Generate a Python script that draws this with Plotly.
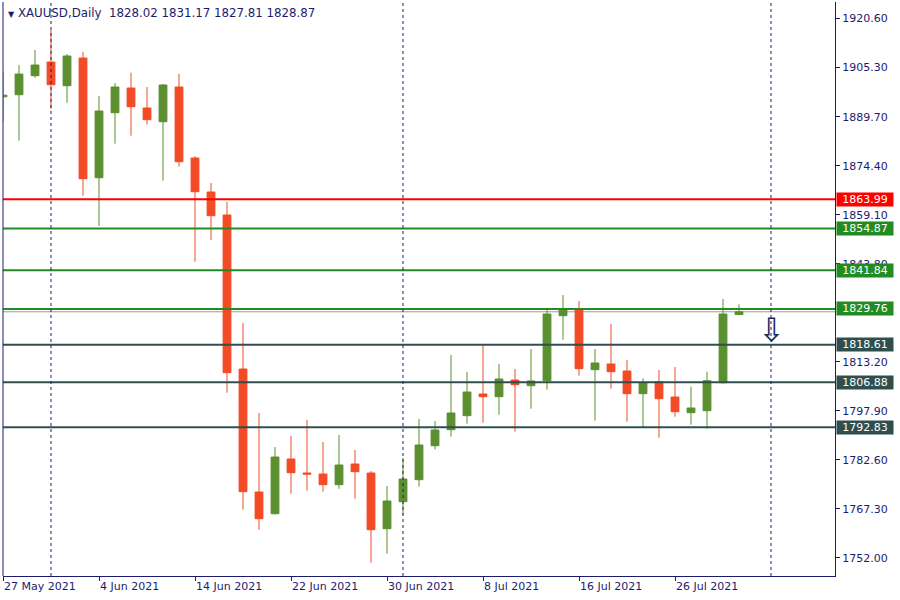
import plotly.graph_objects as go
import pandas as pd

# ---- data ----
dates = ["2021-05-27", "2021-05-28", "2021-05-31", "2021-06-01", "2021-06-02", "2021-06-03",
         "2021-06-04", "2021-06-07", "2021-06-08", "2021-06-09", "2021-06-10", "2021-06-11",
         "2021-06-14", "2021-06-15", "2021-06-16", "2021-06-17", "2021-06-18", "2021-06-21",
         "2021-06-22", "2021-06-23", "2021-06-24", "2021-06-25", "2021-06-28", "2021-06-29",
         "2021-06-30", "2021-07-01", "2021-07-02", "2021-07-05", "2021-07-06", "2021-07-07",
         "2021-07-08", "2021-07-09", "2021-07-12", "2021-07-13", "2021-07-14", "2021-07-15",
         "2021-07-16", "2021-07-19", "2021-07-20", "2021-07-21", "2021-07-22", "2021-07-23",
         "2021-07-26", "2021-07-27", "2021-07-28", "2021-07-29", "2021-07-30"]

opens = [1896.0, 1896.65, 1902.58, 1906.86, 1899.46, 1908.11, 1870.73, 1891.03, 1898.74, 1892.5,
         1888.22, 1899.05, 1876.89, 1866.27, 1859.09, 1811.0, 1772.6, 1765.82, 1782.9, 1778.53,
         1778.22, 1774.88, 1781.34, 1778.53, 1761.14, 1769.57, 1776.44, 1787.05, 1792.05, 1796.43,
         1803.2, 1802.36, 1807.57, 1805.79, 1807.35, 1827.65, 1829.43, 1810.8, 1812.57, 1810.38,
         1803.3, 1807.04, 1802.26, 1797.36, 1797.98, 1806.73, 1828.02]
highs = [1903.8, 1905.9, 1910.6, 1916.85, 1909.36, 1909.98, 1896.25, 1900.3, 1903.52, 1899.05,
         1900.0, 1903.2, 1877.5, 1869.08, 1863.15, 1825.4, 1797.27, 1786.65, 1790.09, 1795.08,
         1788.21, 1790.4, 1785.71, 1779.15, 1774.47, 1783.21, 1795.4, 1794.77, 1815.4, 1810.07,
         1818.5, 1812.57, 1811.0, 1817.25, 1829.96, 1834.11, 1832.24, 1817.25, 1825.06, 1813.82,
         1808.1, 1810.69, 1811.63, 1805.48, 1810.16, 1832.86, 1831.17]
lows = [1888.2, 1882.3, 1901.96, 1892.28, 1894.15, 1865.12, 1855.65, 1881.35, 1883.85, 1887.3,
        1869.8, 1874.2, 1844.5, 1851.28, 1803.6, 1767.1, 1760.83, 1765.6, 1772.07, 1773.0,
        1772.7, 1773.6, 1770.51, 1750.52, 1753.33, 1765.51, 1774.26, 1785.9, 1789.9, 1793.93,
        1794.24, 1796.74, 1791.43, 1798.6, 1804.54, 1820.15, 1808.9, 1794.86, 1804.86, 1794.55,
        1792.68, 1789.55, 1796.11, 1793.62, 1792.36, 1806.5, 1827.81]
closes = [1896.5, 1903.1, 1905.92, 1899.77, 1908.74, 1870.42, 1891.56, 1899.05, 1892.9, 1888.85,
          1899.68, 1875.73, 1866.36, 1858.87, 1809.85, 1772.7, 1764.26, 1783.52, 1778.62, 1778.2,
          1774.88, 1781.03, 1778.94, 1760.83, 1769.79, 1776.66, 1787.27, 1791.96, 1797.27, 1803.82,
          1802.36, 1807.88, 1806.1, 1807.26, 1828.18, 1829.74, 1811.1, 1812.88, 1810.16, 1803.3,
          1806.73, 1801.73, 1797.67, 1798.83, 1807.35, 1828.18, 1828.87]

level_prices = [1863.99, 1854.87, 1841.84, 1829.76, 1818.61, 1806.88, 1792.83]
level_colors = ["#ff0000", "#228b22", "#228b22", "#228b22", "#2f4f4f", "#2f4f4f", "#2f4f4f"]
bid_price = 1828.87

y_tick_vals = [1920.60, 1905.30, 1889.70, 1874.40, 1859.10, 1843.80,
               1813.20, 1797.90, 1782.60, 1767.30, 1752.00]
x_tick_idx = [0, 6, 12, 18, 24, 30, 36, 42]
separator_idx = [3, 25, 48]
arrow_pos = (48, 1823.3)
title_text = "XAUUSD,Daily  1828.02 1831.17 1827.81 1828.87"

# ---- styling ----
NAVY = "#1c1c6e"
BULL = "#5b8f2f"
BEAR = "#f24b26"
FONT = "DejaVu Sans"

idx = list(range(len(dates)))
tick_text = [pd.Timestamp(dates[i]).strftime("%-d %b %Y") for i in x_tick_idx]

fig = go.Figure()
fig.add_trace(go.Candlestick(
    x=idx, open=opens, high=highs, low=lows, close=closes,
    increasing=dict(line=dict(color=BULL, width=1), fillcolor=BULL),
    decreasing=dict(line=dict(color=BEAR, width=1), fillcolor=BEAR),
    whiskerwidth=0, showlegend=False, hoverinfo="skip",
))

shapes = []
annotations = []
# bid line
shapes.append(dict(type="line", xref="paper", x0=0, x1=1, yref="y", y0=bid_price, y1=bid_price,
                   line=dict(color="#9a9a9a", width=1), layer="below"))
for p, c in zip(level_prices, level_colors):
    shapes.append(dict(type="line", xref="paper", x0=0, x1=1, yref="y", y0=p, y1=p,
                       line=dict(color=c, width=2), layer="above"))
    annotations.append(dict(xref="paper", x=1, xanchor="left", xshift=1, yref="y", y=p,
                            yanchor="middle", text=f"{p:.2f}", showarrow=False,
                            font=dict(family=FONT, size=11, color="white"),
                            bgcolor=c, width=56, height=13, borderpad=0, align="center"))
for s in separator_idx:
    shapes.append(dict(type="line", xref="x", x0=s, x1=s, yref="paper", y0=0, y1=1,
                       line=dict(color=NAVY, width=1, dash="3px,3px"), layer="above"))

annotations.append(dict(xref="paper", x=0, xanchor="left", xshift=3, yref="paper", y=1,
                        yanchor="top", yshift=-2, showarrow=False,
                        text=f"<span style='font-size:8px'>▼</span> {title_text}",
                        font=dict(family=FONT, size=11.8, color=NAVY)))
# arrow signal
annotations.append(dict(xref="x", x=arrow_pos[0], yref="y", y=arrow_pos[1],
                        text="⇩", showarrow=False,
                        font=dict(family=FONT, size=32, color="#1a2a5a")))

fig.update_layout(
    width=900, height=600,
    margin=dict(l=3, r=65, t=2, b=24, autoexpand=False),
    paper_bgcolor="white", plot_bgcolor="white",
    font=dict(family=FONT, size=11, color=NAVY),
    shapes=shapes, annotations=annotations,
    showlegend=False,
)
fig.update_xaxes(range=[0, 52], rangeslider_visible=False, showgrid=False, zeroline=False,
                 tickmode="array", tickvals=x_tick_idx, ticktext=tick_text,
                 ticks="outside", ticklen=4, tickcolor=NAVY, ticklabelposition="outside right",
                 showline=True, linecolor=NAVY, linewidth=1, automargin=False,
                 tickfont=dict(family=FONT, size=11, color=NAVY))
fig.update_yaxes(range=[1746.37, 1925.60], side="right", showgrid=False, zeroline=False,
                 tickmode="array", tickvals=y_tick_vals,
                 ticktext=[f"{v:.2f}" for v in y_tick_vals],
                 ticks="outside", ticklen=4, tickcolor=NAVY, automargin=False,
                 showline=True, linecolor=NAVY, linewidth=1,
                 tickfont=dict(family=FONT, size=11, color=NAVY))

# left frame line
fig.add_shape(type="line", xref="paper", x0=0, x1=0, yref="paper", y0=0, y1=1,
              line=dict(color=NAVY, width=1))

fig.write_html("out.html", config={"displayModeBar": False},
               post_script="document.body.style.margin='0';document.body.style.overflow='hidden';")
